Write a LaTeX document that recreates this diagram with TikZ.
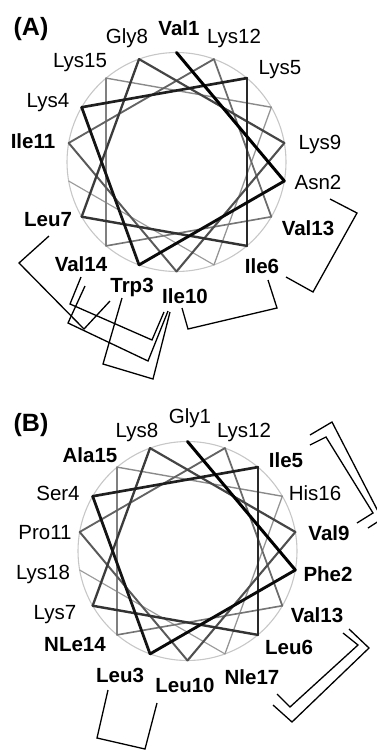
\documentclass[tikz,border=0pt]{standalone}
\usepackage{fontspec}
\setmainfont{Liberation Sans}
\begin{document}
\begin{tikzpicture}[x=1pt,y=-1pt,
  lab/.style={font=\fontsize{20.5}{24}\selectfont, anchor=base, inner sep=0pt},
  hyd/.style={font=\fontsize{20.5}{24}\selectfont\bfseries, anchor=base, inner sep=0pt},
  panel/.style={font=\fontsize{25}{29}\selectfont\bfseries, anchor=base, inner sep=0pt},
  brk/.style={line width=1.3pt, draw=black, line join=miter},
  ring/.style={draw=black!22, line width=1.1pt}]
\useasboundingbox (0,0) rectangle (377,750);
\clip (0,0) rectangle (377,750);

% helical wheels
\foreach \P/\cx/\cy in {A/176.5/162, B/187.5/551} {
  \draw[ring] (\cx,\cy) circle[radius=109.5];
  \foreach \k in {1,...,18} {
    \coordinate (\P\k) at ({\cx+109.5*cos(90-(\k-1)*100)}, {\cy-109.5*sin(90-(\k-1)*100)});
  }
  \foreach \k in {17,16,...,1} {
    \pgfmathtruncatemacro\n{\k+1}
    \pgfmathsetmacro\w{3.0-0.115*(\k-1)}
    \pgfmathtruncatemacro\g{100-3.8*(\k-1)}
    \draw[line width=\w pt, draw=black!\g, line cap=round] (\P\k) -- (\P\n);
  }
}

% panel A labels
\node[panel] (pA) at (31,35) {(A)};
\node[lab] (aG8) at (127,43) {Gly8};
\node[hyd] (aV1) at (179,35) {Val1};
\node[lab] (aK12) at (234,43) {Lys12};
\node[lab] (aK15) at (80,67) {Lys15};
\node[lab] (aK5) at (280,74) {Lys5};
\node[lab] (aK4) at (48,107) {Lys4};
\node[hyd] (aI11) at (33,148) {Ile11};
\node[lab] (aK9) at (320,149) {Lys9};
\node[lab] (aN2) at (318,189) {Asn2};
\node[hyd] (aL7) at (48,226) {Leu7};
\node[hyd] (aV13) at (308,235) {Val13};
\node[hyd] (aV14) at (81,271) {Val14};
\node[hyd] (aI6) at (262,273) {Ile6};
\node[hyd] (aW3) at (132,292) {Trp3};
\node[hyd] (aI10) at (185,303) {Ile10};

% panel B labels
\node[panel] (pB) at (31,431) {(B)};
\node[lab] (bK8) at (137,437) {Lys8};
\node[lab] (bG1) at (190,423) {Gly1};
\node[lab] (bK12) at (244,437) {Lys12};
\node[hyd] (bA15) at (90,462) {Ala15};
\node[hyd] (bI5) at (286,467) {Ile5};
\node[lab] (bS4) at (58,500) {Ser4};
\node[lab] (bH16) at (315,500) {His16};
\node[lab] (bP11) at (45,539) {Pro11};
\node[hyd] (bV9) at (329,540) {Val9};
\node[lab] (bK18) at (43,579) {Lys18};
\node[hyd] (bF2) at (328,581) {Phe2};
\node[lab] (bK7) at (55,619) {Lys7};
\node[hyd] (bV13) at (317,622) {Val13};
\node[hyd] (bN14) at (75,651) {NLe14};
\node[hyd] (bL6) at (289,654) {Leu6};
\node[hyd] (bL3) at (120,682) {Leu3};
\node[hyd] (bL10) at (185,692) {Leu10};
\node[hyd] (bN17) at (252,684) {Nle17};

% panel A brackets
\coordinate (p1a) at (330,199); \coordinate (p1b) at (357,213); \coordinate (p1c) at (313,292); \coordinate (p1d) at (286,277);
\draw[brk] (p1a) -- (p1b) -- (p1c) -- (p1d);
\coordinate (p2a) at (268,280); \coordinate (p2b) at (277,308); \coordinate (p2c) at (188,329); \coordinate (p2d) at (182,308);
\draw[brk] (p2a) -- (p2b) -- (p2c) -- (p2d);
\coordinate (p3a) at (110,301); \coordinate (p3b) at (84,329); \coordinate (p3c) at (19,263); \coordinate (p3d) at (49,236);
\draw[brk] (p3a) -- (p3b) -- (p3c) -- (p3d);
\coordinate (p4a) at (81,277); \coordinate (p4b) at (70,304); \coordinate (p4c) at (152,340); \coordinate (p4d) at (164,312);
\draw[brk] (p4a) -- (p4b) -- (p4c) -- (p4d);
\coordinate (p5a) at (85,286); \coordinate (p5b) at (68,323); \coordinate (p5c) at (148,361); \coordinate (p5d) at (168,311);
\draw[brk] (p5a) -- (p5b) -- (p5c) -- (p5d);
\coordinate (p6a) at (122,298); \coordinate (p6b) at (103,364); \coordinate (p6c) at (153,379); \coordinate (p6d) at (170,312);
\draw[brk] (p6a) -- (p6b) -- (p6c) -- (p6d);

% panel B brackets
\coordinate (q1a) at (108,690); \coordinate (q1b) at (97,738); \coordinate (q1c) at (145,749); \coordinate (q1d) at (157,703);
\draw[brk] (q1a) -- (q1b) -- (q1c) -- (q1d);
\coordinate (q2a) at (343,633); \coordinate (q2b) at (358,645); \coordinate (q2c) at (290,707); \coordinate (q2d) at (277,694);
\draw[brk] (q2a) -- (q2b) -- (q2c) -- (q2d);
\coordinate (q3a) at (349,629); \coordinate (q3b) at (369,648); \coordinate (q3c) at (292,722); \coordinate (q3d) at (273,705);
\draw[brk] (q3a) -- (q3b) -- (q3c) -- (q3d);
\coordinate (q4a) at (310,445); \coordinate (q4b) at (326,437); \coordinate (q4c) at (373,513); \coordinate (q4d) at (357,523);
\draw[brk] (q4a) -- (q4b) -- (q4c) -- (q4d);
\coordinate (q5a) at (310,435); \coordinate (q5b) at (332,422); \coordinate (q5c) at (382,519); \coordinate (q5d) at (368,528);
\draw[brk] (q5a) -- (q5b) -- (q5c) -- (q5d);
\end{tikzpicture}
\end{document}
